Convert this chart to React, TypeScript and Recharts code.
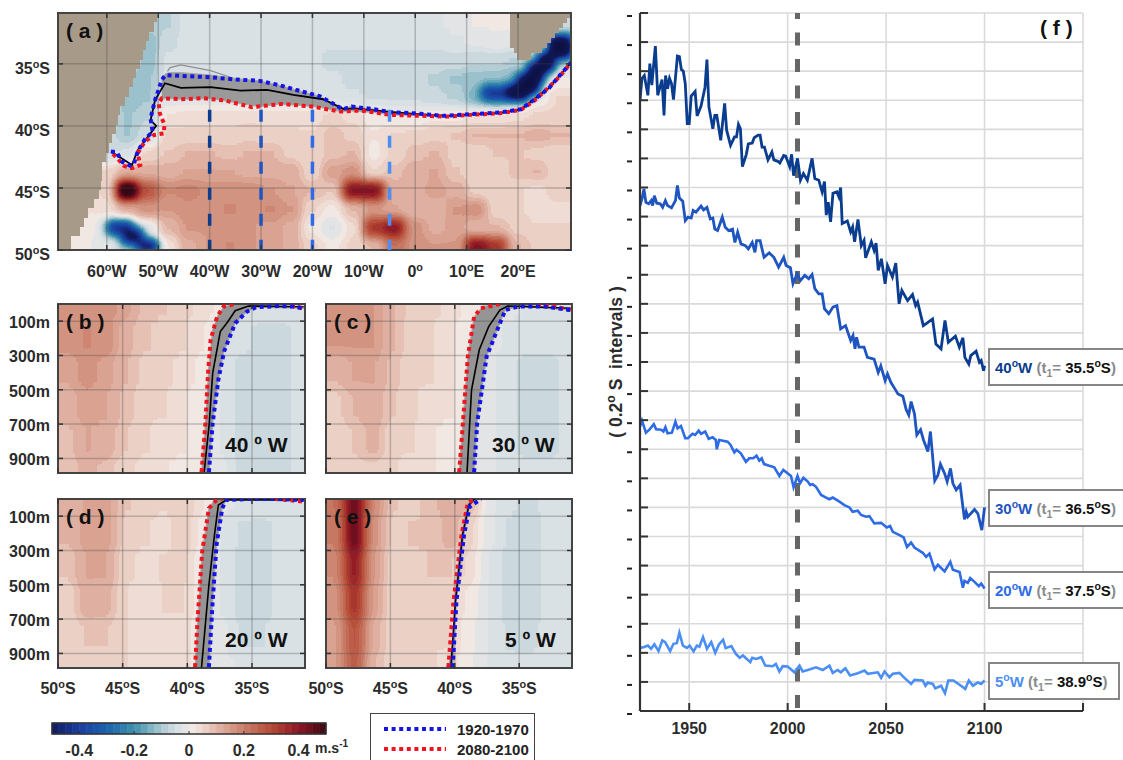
import { Area, ComposedChart, Line, ReferenceArea, ReferenceLine, XAxis, YAxis, CartesianGrid } from "recharts"

const FONT = "'Liberation Sans', Arial, sans-serif"
const TXT = "#2b2b2b"

// ---- time series of panel f (year, front position in 0.2 deg intervals)
const years40 = [1925,1926,1927.2,1929,1930,1931,1932.8,1934,1936.2,1937.2,1938,1939,1940,1941,1942,1944,1945,1946,1947,1948,1949,1950,1951,1953,1954,1956,1958,1959,1960,1962,1963,1964,1966,1968,1969,1971,1973,1974,1975,1976,1977,1979,1980,1982,1983,1985,1986,1987,1988.2,1990,1992,1993,1995,1996,1998,1999,2001,2002,2003,2005,2006.5,2008,2010,2012.4,2013.8,2015.8,2017.5,2018.7,2019.6,2020.6,2021.8,2023,2025,2026,2026.9,2027.7,2030.3,2032,2033,2034,2035.7,2037.4,2038.8,2039.6,2042.5,2043.9,2044.9,2046,2047.6,2049.5,2050.7,2053.2,2054.9,2056.6,2058,2060.9,2063.4,2065,2066,2068.9,2070.2,2073.6,2075.3,2077.9,2079.9,2081.6,2085.2,2087.2,2089,2090,2092,2093,2095.7,2097.4,2098.3,2099.5,2100]
const values40 = [21,21.75,21.85,21.17,22.26,21.52,22.86,21.17,21.71,20.48,21.85,21.4,21.75,21.57,21.02,22.52,22.5,22.06,22,21.57,20.2,20.2,21.14,21.3,20.46,20.8,21.44,22.4,20.77,20.02,20.48,20.48,19.62,20.89,19.97,19.45,19.74,19.74,20.17,20.02,18.72,19.14,19.5,19.53,19.71,19.8,19.8,19.39,19.39,18.95,19.22,18.95,18.9,18.84,19.1,19.08,18.72,19.14,18.41,19,18.25,18.48,18.25,19,18.31,18.25,17.85,18.2,17.05,17.5,16.82,17.8,17.85,17.68,18,16.76,16.85,16.47,16.64,16.13,16.9,16,16.18,15.58,16.13,15.84,16.09,15.15,15.55,14.69,15.32,14.92,15.4,14,14.46,14.11,14.32,13.94,14.06,13.25,13.31,13.48,12.62,12.45,13.43,12.68,12.89,12.51,12.83,12.16,11.93,12.22,12.37,11.99,12.05,11.7,11.87]

const years30 = [1925,1926,1927,1928,1929.4,1930.7,1931.4,1932.3,1933.5,1935.3,1936.5,1937.9,1939,1941,1943,1944,1945,1946.7,1948,1949.4,1951,1952,1953.4,1956,1957.3,1959,1960.7,1962,1963,1964.4,1966.8,1968.3,1970,1972,1973.2,1974.6,1976.3,1978.5,1980,1982,1983.4,1984.2,1986,1988,1990.6,1993,1995.4,1998,1999.2,2001.4,2002.7,2004.8,2006.5,2008.7,2010.7,2012.4,2013.8,2015.8,2017.5,2018.7,2020.9,2023,2025,2026.9,2029.4,2032,2033.2,2034.2,2035,2036.2,2038.8,2040.5,2043.9,2046,2047.3,2049.5,2050.7,2052.4,2054.7,2056,2058.5,2060.2,2061.5,2062.7,2064.4,2065.6,2067.5,2069,2071.2,2072.5,2074.7,2076.3,2077.6,2079.7,2081,2082.7,2083.9,2085.6,2087.6,2089.8,2090.7,2091.5,2094.9,2096.6,2098.6,2100]
const values30 = [17.38,17.61,17.95,17.49,17.44,17.55,17.38,17.72,17.46,17.44,17.32,17.55,17.38,17.3,17.55,18.07,17.64,17.53,16.86,16.98,16.95,17.21,17.15,17.36,17.23,17.32,16.92,16.95,16.57,16.52,16.98,16.63,16.52,16.57,16.11,16.46,16.06,16,15.89,16.11,15.77,16.17,16.17,15.6,15.75,15.6,15.26,15.6,15.32,15.24,14.69,15.03,14.8,14.98,14.86,15.01,14.52,14.34,14.34,13.83,13.66,13.89,13.94,13.14,13.25,12.74,12.91,12.45,12.85,12.51,12.51,12.16,12.1,11.64,11.87,11.36,11.59,11.3,11.05,10.9,10.82,10.36,10.18,10.64,10.22,9.49,9.67,9.32,8.92,9.61,7.92,8.11,8.49,8.17,7.89,8.34,7.83,7.6,7.77,6.59,6.85,6.68,6.93,6.79,6.22,7]

const years20 = [1925,1926,1928,1930,1932,1933.2,1935.7,1936.9,1937.9,1939,1941.2,1943,1944.1,1945.8,1948,1949.3,1951.7,1953,1954.8,1956,1958.1,1959.9,1961.9,1963.5,1964,1965.2,1969.5,1971,1972.9,1974,1976.2,1978.8,1980.5,1982.5,1984.2,1985.6,1986.8,1988,1990.7,1993.2,1995.8,1997.8,2001.7,2003,2005,2006.3,2008,2010.2,2011.4,2012.7,2014.4,2017,2019.5,2021.2,2022.9,2026.3,2028.8,2031.4,2033,2035.6,2037.3,2039.8,2041.5,2044,2047.5,2050.3,2052,2053.4,2056.8,2058.9,2060.6,2062.7,2064.4,2068.6,2070.3,2072,2074.6,2076.3,2079.7,2082.6,2083.9,2087.3,2089,2089.8,2091.5,2092.7,2094.9,2097.1,2098.3,2100]
const values20 = [9.78,9.99,9.57,9.69,9.86,9.69,9.67,9.61,9.76,9.55,9.57,9.95,9.72,9.8,9.38,9.38,9.53,9.49,9.64,9.53,9.61,9.36,9.41,9.32,9,9.32,9.26,9.15,8.89,8.98,8.86,8.57,8.69,8.69,8.78,8.61,8.69,8.49,8.43,8.38,8.08,8.29,8.08,7.69,8.08,7.83,8.02,7.89,7.77,7.8,7.71,7.43,7.34,7.28,7.34,7.2,7.08,7,6.85,6.89,6.74,6.68,6.7,6.45,6.47,6.31,6.36,6.16,6.05,5.97,5.64,5.79,5.62,5.44,5.3,5.41,4.87,5.03,4.8,5.13,4.86,4.78,4.24,4.47,4.41,4.57,4.44,4.29,4.38,4.21]

const years5 = [1925,1927.2,1929,1930.6,1932.3,1934.4,1936.3,1937.8,1940.3,1942,1943.7,1945,1946.8,1948.8,1950.2,1952.2,1953.9,1955.2,1957,1959,1961.2,1963.2,1965.1,1967.2,1968.5,1971.4,1973.6,1975.6,1977.3,1981,1982,1984,1986.6,1988.6,1992.4,1994,1995.8,1997.5,2000,2003.4,2006,2007.6,2010.2,2014.4,2017.8,2021.2,2022.9,2025.4,2027,2029.3,2031.7,2035.6,2039,2040.7,2045.8,2047.5,2049.2,2051.7,2053.4,2056.8,2059.3,2062.7,2064.4,2068.6,2070,2071.2,2073.7,2075,2077.9,2079.9,2081.6,2084.2,2088,2090.2,2092,2094.1,2096.6,2098.3,2100]
const values5 = [2.17,2.2,2.25,2.14,2.29,2.06,2.43,2.37,2.06,2.31,2.33,2.69,2.25,2.17,2.25,2.05,2.25,2.21,2.54,2.14,2.37,2,2.29,2.45,2.16,2.23,1.97,1.83,1.91,1.68,1.83,1.79,1.85,1.56,1.54,1.62,1.36,1.54,1.53,1.33,1.56,1.36,1.41,1.5,1.41,1.56,1.31,1.41,1.33,1.47,1.22,1.3,1.39,1.28,1.33,1.14,1.36,1.16,1.28,1.31,1.14,0.93,1.07,1.05,0.87,0.98,0.93,0.78,0.87,0.61,1.05,1.05,0.87,0.76,1.05,0.87,0.98,0.93,1.05]

const yearTicks = [1950, 2000, 2050, 2100, 2150]
const intervalTicks = [0,1,2,3,4,5,6,7,8,9,10,11,12,13,14,15,16,17,18,19,20,21,22,23,24]

// ---- panel a: surface field, m/s x 100, rows north to south
const lonEdges = [-70,-66,-62,-58,-54,-50,-46,-42,-38,-34,-30,-26,-22,-18,-14,-10,-6,-2,2,6,10,14,18,22,26,30]
const latEdges = [-31,-32.5,-34,-35.5,-37,-38.5,-40,-41.5,-43,-44.5,-46,-47.5,-49,-50.5]
const surfaceField = [
  [-3,-3,-3,-3,-8,-8,-3,-3,-3,-3,-3,-3,-3,-3,-3,-3,-3,-3,-3,-2,0,1,1,1,-6],
  [-3,-3,-3,-3,-12,-6,-3,-3,-3,-3,-3,-4,-4,-4,-4,-4,-4,-4,-4,-3,-2,-1,-2,-4,-14],
  [-3,-3,-3,-3,-12,-4,-3,-3,-3,-3,-3,-3,-4,-6,-6,-6,-6,-6,-6,-6,-7,-7,-8,-10,-8],
  [-3,-3,-3,-12,-10,-4,-3,-3,-3,-3,-3,-3,-4,-4,-6,-7,-7,-7,-8,-10,-11,-12,-14,-8,0],
  [-3,-3,-3,-12,-10,-2,-2,-2,-2,-2,-2,-2,-3,-3,-4,-5,-5,-5,-7,-8,-14,-18,-12,0,5],
  [-3,-3,-3,-10,-8,3,4,4,4,4,4,4,4,6,4,2,1,1,2,2,3,3,4,6,6],
  [-3,-3,-5,-10,-6,6,6,6,6,7,6,6,5,9,7,3,5,6,7,8,10,10,10,11,10],
  [-3,-3,-5,-4,6,8,10,10,9,10,10,7,5,9,10,2,6,9,10,7,6,8,8,7,6],
  [2,3,6,12,12,11,13,13,13,12,12,12,6,14,16,5,9,12,13,8,6,6,9,10,5],
  [2,3,6,58,28,18,19,17,17,17,15,13,10,8,42,42,11,11,14,12,7,5,5,4,7],
  [2,3,4,12,16,15,17,17,18,17,18,15,5,2,10,15,13,10,10,15,17,6,5,4,4],
  [0,2,-3,-8,-2,10,15,15,16,15,14,12,2,-3,4,34,40,16,12,14,10,10,7,5,5],
  [2,0,-2,-8,-6,3,12,15,18,15,14,12,6,2,6,10,22,17,15,15,42,34,10,7,6],
]
// narrow jets that the coarse grid can not carry: lon1, lon2, lat1, lat2, value x 100
const surfacePatches = [
  [13,18,-36.8,-37.9,-45],
  [18,22,-36.7,-37.9,-68],
  [20,24,-35.9,-37.4,-70],
  [22,25,-35,-36.4,-70],
  [24,27,-34.2,-35.6,-70],
  [26,30.3,-32.8,-34.5,-70],
  [-60,-55,-47.6,-48.8,-45],
  [-57,-53,-48.3,-49.5,-55],
  [-54,-50,-49.2,-50.2,-55],
]

const coastLats = [-30.9,-31.65,-32.4,-33.15,-33.9,-34.65,-35.4,-36.15,-36.9,-37.65,-38.4,-39.15,-39.9,-40.65,-41.4,-42.15,-42.9,-43.65,-44.4,-45.15,-45.9,-46.65,-47.4,-48.15,-48.9,-49.65,-50]
const coastLons = [-50.2,-50.9,-51.7,-52.3,-52.9,-53.6,-54.3,-55,-55.7,-56.5,-57.4,-57.8,-58.3,-58.9,-59.6,-60.2,-61,-61,-61.2,-61.5,-62.5,-63.7,-64.5,-65.3,-67,-67]
// lat top, lat bottom, lon left, lon right
const africaRows = [
  [-30.9,-31.3,18.4,30.3],
  [-31.3,-31.7,18.4,29.6],
  [-31.7,-32.1,18.4,28.8],
  [-32.1,-32.5,18.4,28],
  [-32.5,-32.9,18.4,27.2],
  [-32.9,-33.3,18.4,26.4],
  [-33.3,-33.7,18.4,25.6],
  [-33.7,-34.1,19.2,24.6],
  [-34.1,-34.65,19.8,22.6],
]

const blueLons = [-59.2,-58.1,-57,-55.5,-54.7,-54,-52.6,-51.1,-51.5,-50.6,-49.3,-48.6,-45.6,-39.8,-35.4,-30.3,-26.6,-22.3,-18.6,-16,-14.1,-12.4,-8.4,-4.7,-0.3,5.5,10.6,16.5,20.5,23.1,26,28.2,30.3]
const blueLats = [-42.07,-42.12,-42.9,-43.2,-43.01,-42.07,-41.08,-40.46,-39.38,-37.9,-36.29,-35.9,-35.97,-36.08,-36.24,-36.37,-36.7,-37.2,-37.6,-38.2,-38.66,-38.44,-38.63,-38.9,-38.98,-39.19,-39.06,-38.92,-38.66,-37.9,-36.96,-35.89,-34.9]
const redLons = [-58.8,-56.6,-55.1,-53.5,-54,-52.6,-50.8,-48.9,-48.8,-49.7,-49.9,-49.3,-45.6,-41.3,-36.9,-31.8,-29.6,-25.9,-20.1,-14.6,-10.6,-4.7,-0.3,6.3,10.6,16.5,20.5,23.1,26,28.2,30.3]
const redLats = [-42.26,-43.23,-43.41,-43.15,-42.2,-41.26,-40.73,-40.6,-39.9,-38.98,-38.17,-37.77,-37.85,-37.77,-37.96,-38.49,-38.39,-38.23,-38.44,-38.84,-38.76,-39.11,-39.17,-39.25,-39.11,-38.98,-38.71,-37.98,-36.88,-35.97,-34.9]
const blackLons = [-59.2,-55.1,-54,-51.5,-50.4,-51.5,-50.6,-48.7,-45.6,-39.8,-34,-28.8,-23.7,-17.9,-13.8,-12,-7.6,-0.3,6.3,16.5,20.5,26,30.3]
const blackLats = [-42.07,-43.15,-41.95,-40.6,-40,-39.55,-37.9,-36.56,-36.94,-36.88,-37.15,-37.1,-37.5,-37.85,-38.66,-38.58,-38.76,-39.03,-39.19,-38.95,-38.68,-36.94,-34.9]
const greyLons = [-48.2,-47.7,-45.6,-39.8,-35.4]
const greyLats = [-35.6,-35.3,-35.08,-35.54,-36.16]
const bandLons = [-49.3,-48.6,-47.7,-45.6,-39.8,-35.4,-30.3,-26.6,-22.3,-18.6,-14.6,-12.4,-8.4,-4.7,-0.3,5.5]
const bandTops = [-36.2,-35.8,-35.7,-35.7,-35.9,-36.16,-36.37,-36.7,-37.2,-37.6,-38.6,-38.44,-38.63,-38.9,-38.98,-39.15]
const bandBottoms = [-37.8,-37.8,-37.8,-37.85,-37.8,-38.1,-38.45,-38.25,-38.35,-38.5,-38.84,-38.8,-38.9,-39.11,-39.17,-39.2]

const lonTicks = [-60,-50,-40,-30,-20,-10,0,10,20]
const latTicks = [-50,-45,-40,-35]
const transectLons = [-40,-30,-20,-5]
const transectColors = ["#0a3d8f","#1f55c0","#2e6be6","#4b8ff5"]

// ---- panels b-e: sections, m/s x 100, rows top to bottom
const sectionLatEdges = [-50,-48.5,-47,-45.5,-44,-42.5,-41,-39.5,-38,-36.5,-35,-33.5,-32,-30.5]
const depthEdges = [0,100,300,500,700,900,985]
const depthTicks = [100,300,500,700,900]
const sectionLatTicks = [-50,-45,-40,-35]

const field40 = [
  [16,17,16,14,9,8,6,4,2,-3,-3,-3,-3],
  [16,18,17,11,8,7,5,3,-2,-4,-6,-6,-4],
  [13,16,14,10,7,6,4,2,-3,-6,-6,-6,-4],
  [11,14,13,9,6,5,3,1,-3,-6,-6,-6,-4],
  [9,13,12,8,5,4,3,0,-3,-6,-6,-6,-4],
  [8,11,9,6,4,3,2,0,-2,-6,-6,-6,-4],
]
const field30 = [
  [15,16,15,10,7,6,4,2,-2,-2,-3,-3,-3],
  [15,15,15,10,6,5,3,2,-2,-3,-4,-4,-3],
  [10,13,13,9,5,5,3,1,-2,-4,-6,-6,-4],
  [7,10,12,8,5,4,3,1,-2,-4,-6,-6,-4],
  [5,8,11,6,5,3,2,0,-2,-4,-6,-6,-4],
  [6,7,7,5,4,3,2,0,-2,-4,-4,-4,-3],
]
const field20 = [
  [11,13,14,8,7,5,8,3,-2,-3,-3,-3,-3],
  [10,14,14,7,5,4,7,2,-3,-5,-6,-4,-3],
  [8,13,13,6,4,5,6,1,-3,-6,-6,-4,-3],
  [6,12,11,5,3,5,5,1,-3,-6,-6,-4,-3],
  [6,8,8,5,3,4,4,0,-2,-5,-5,-3,-3],
  [6,6,6,5,3,4,4,0,-2,-3,-3,-3,-3],
]
const field5 = [
  [22,46,18,8,7,9,13,10,-2,-4,-6,-4,-3],
  [20,46,16,7,8,8,12,6,-2,-5,-7,-4,-3],
  [18,40,15,6,7,8,8,4,-3,-6,-7,-4,-3],
  [16,35,14,6,6,6,6,2,-3,-6,-7,-4,-3],
  [14,29,12,6,5,5,5,1,-3,-5,-6,-4,-3],
  [14,27,10,6,5,5,4,0,-3,-4,-4,-3,-3],
]

// front positions: lat, depth; null breaks the line
const b = {
  blue: [[-38.33,980],[-38.04,694],[-37.6,442],[-37.16,277],[-36.3,112],[-35.4,45],[-34.7,19],[-32.9,12],[-31.8,15],[-31,25]],
  red: [[-38.9,980],[-38.6,694],[-38.4,403],[-38.2,209],[-37.7,74],[-37.2,15],[-36.3,0],[-35,null],[-32,10],[-31,25]],
  black: [[-38.7,980],[-38.3,694],[-38.04,403],[-37.45,161],[-36.87,103],[-36.3,39],[-35.27,12],[-31,16]],
  band: [[-38.9,980,985],[-38.6,694,985],[-38.33,350,985],[-38.04,150,694],[-37.6,60,442],[-37.16,15,277],[-36.3,0,112],[-35.4,0,45],[-34.7,0,19],[-31,25,25]],
}
const c = {
  blue: [[-38.5,980],[-38.26,694],[-37.53,306],[-36.8,170],[-36.08,35],[-35.06,15],[-33,15],[-31,35]],
  red: [[-39.66,980],[-39.37,694],[-38.99,306],[-38.5,74],[-37.97,25],[-36.5,0],[-35,null],[-33.6,0],[-32.4,12],[-31,35]],
  black: [[-39.05,980],[-38.7,500],[-38.1,267],[-37.37,132],[-36.5,35],[-35.9,12],[-31,25]],
  band: [[-39.66,980,985],[-39.37,694,985],[-38.99,306,985],[-38.5,74,985],[-38.26,55,694],[-37.97,25,540],[-37.53,10,306],[-36.8,0,170],[-36.08,0,35],[-35,0,15],[-31,35,35]],
}
const d = {
  blue: [[-38.33,980],[-38.04,597],[-37.74,267],[-37.3,54],[-37,6],[-35.27,0],[-33.2,0],[-31,6]],
  red: [[-39.4,980],[-39.2,694],[-38.85,306],[-38.33,54],[-37.74,6],[-37.3,0],[-35,null],[-33.2,0],[-31,15]],
  black: [[-38.9,980],[-38.33,500],[-37.9,209],[-37.6,35],[-37,6],[-31,6]],
  band: [[-39.4,980,985],[-39.2,694,985],[-38.85,306,985],[-38.33,54,980],[-38.04,20,597],[-37.74,5,267],[-37.3,0,54],[-37,0,6]],
}
const e = {
  blue: [[-40.16,980],[-39.87,597],[-39.28,209],[-38.85,45],[-37.97,0]],
  red: [[-40.5,980],[-40.1,597],[-39.48,209],[-39,25],[-38.5,0]],
  black: [[-40.3,980],[-39.95,597],[-39.4,209],[-38.9,35],[-38.45,0]],
  band: [[-40.5,980,985],[-40.16,850,985],[-39.87,480,597],[-39.48,209,350],[-39.28,130,209],[-39,25,100],[-38.85,15,45],[-38.5,0,10]],
}

// ---- colour scale
const colorStops = [
  [-0.7,"#0c1040"],[-0.5,"#111a5c"],[-0.4,"#1c3fa0"],[-0.3,"#1a62ae"],[-0.2,"#3e90aa"],[-0.1,"#a9c9d3"],[-0.07,"#c6d6dc"],[-0.05,"#d4dee2"],[-0.03,"#dee3e6"],[0,"#e6e6e6"],
  [0.01,"#f2e9e5"],[0.05,"#efd8cf"],[0.1,"#e2b8aa"],[0.15,"#d69c89"],[0.2,"#c97f6a"],[0.3,"#b64a36"],[0.4,"#8f1525"],[0.5,"#3a0a14"],[0.7,"#2a0810"],
] as [number, string][]
const colorTicks = [-0.4,-0.2,0,0.2,0.4]
const LEVELS = 56
const RANGE = 0.7

function rgbAt(v: number) {
  for (let i = 1; i < colorStops.length; i++) {
    if (v <= colorStops[i][0]) {
      const [v0, c0] = colorStops[i - 1]
      const [v1, c1] = colorStops[i]
      const t = Math.max(0, (v - v0) / (v1 - v0))
      return [1, 3, 5].map((p) => {
        const a = parseInt(c0.slice(p, p + 2), 16)
        const z = parseInt(c1.slice(p, p + 2), 16)
        return a + (z - a) * t
      })
    }
  }
  return [42, 8, 16]
}
const levelColors = Array.from({ length: LEVELS }, (_, k) => rgbAt(-RANGE + ((k + 0.5) * 2 * RANGE) / LEVELS))
const channel = (i: number) => levelColors.map((c) => (c[i] / 255).toFixed(3)).join(" ")
const grayOf = (v: number) => {
  const g = Math.round((255 * (Math.max(-RANGE, Math.min(RANGE, v)) + RANGE)) / (2 * RANGE))
  return `rgb(${g},${g},${g})`
}
const zipXY = (xs: number[], ys: number[]) => xs.map((x, i) => ({ x, y: ys[i] }))
const pairs = (rows: any[]) => rows.map((r) => ({ x: r[0], y: r[1] }))
const bandRows = (rows: any[]) => rows.map((r) => ({ x: r[0], range: [r[1], r[2]] }))

const PAD = 20

function HeatLayer({ left, top, width, height, xDomain, yDomain, reversed, xEdges, yEdges, field, patches = [], blur }: any) {
  const xPad = (PAD * (xDomain[1] - xDomain[0])) / width
  const yPad = (PAD * Math.abs(yDomain[1] - yDomain[0])) / height
  const xd = [xDomain[0] - xPad, xDomain[1] + xPad]
  const yd = [yDomain[0] - yPad, yDomain[1] + yPad]
  const clampX = (i: number) => (i === 0 ? xd[0] : i === xEdges.length - 1 ? xd[1] : xEdges[i])
  const clampY = (j: number) => {
    if (j !== 0 && j !== yEdges.length - 1) return yEdges[j]
    const hi = yEdges[j] === Math.max(yEdges[0], yEdges[yEdges.length - 1])
    return hi ? yd[1] : yd[0]
  }
  return (
    <div style={{ position: "absolute", left, top, width, height, overflow: "hidden" }}>
      <div style={{ position: "absolute", left: -PAD, top: -PAD, filter: `blur(${blur}px) url(#contour)` }}>
        <ComposedChart width={width + 2 * PAD} height={height + 2 * PAD} margin={{ top: 0, right: 0, bottom: 0, left: 0 }} data={[{ x: xd[0], y: yd[0] }]}>
          <XAxis hide type="number" dataKey="x" domain={xd} allowDataOverflow />
          <YAxis hide type="number" domain={yd} reversed={reversed} allowDataOverflow />
          {field.map((row: number[], j: number) =>
            row.map((v: number, i: number) => (
              <ReferenceArea key={`${j}-${i}`} x1={clampX(i)} x2={clampX(i + 1)} y1={clampY(j)} y2={clampY(j + 1)} fill={grayOf(v / 100)} fillOpacity={1} stroke={grayOf(v / 100)} strokeWidth={1} />
            ))
          )}
          {patches.map((p: number[], k: number) => (
            <ReferenceArea key={`p${k}`} x1={p[0]} x2={p[1]} y1={p[2]} y2={p[3]} fill={grayOf(p[4] / 100)} fillOpacity={1} />
          ))}
        </ComposedChart>
      </div>
    </div>
  )
}

const Deg = ({ value, suffix, size = 16, fill = TXT, ...rest }: any) => (
  <text fontFamily={FONT} fontWeight={700} fontSize={size} fill={fill} {...rest}>
    <tspan>{value}</tspan>
    <tspan dy={-size * 0.36} fontSize={size * 0.68}>o</tspan>
    <tspan dy={size * 0.36}>{suffix}</tspan>
  </text>
)

const lonTick = (plotH: number) => ({ x, y, payload }: any) => {
  const v = payload.value
  return (
    <g>
      <line x1={x} x2={x} y1={y} y2={y - 5} stroke="#333" strokeWidth={1.5} />
      <line x1={x} x2={x} y1={y - plotH} y2={y - plotH + 5} stroke="#333" strokeWidth={1.5} />
      <Deg x={x} y={y + 27} textAnchor="middle" value={Math.abs(v)} suffix={v < 0 ? "W" : v > 0 ? "E" : ""} />
    </g>
  )
}
const latTick = (plotW: number) => ({ x, y, payload }: any) => (
  <g>
    <line x1={x} x2={x + 5} y1={y} y2={y} stroke="#333" strokeWidth={1.5} />
    <line x1={x + plotW} x2={x + plotW - 5} y1={y} y2={y} stroke="#333" strokeWidth={1.5} />
    <Deg x={x - 8} y={y + 10} textAnchor="end" value={Math.abs(payload.value)} suffix="S" />
  </g>
)
const sectionLatTick = (show: boolean, plotH: number) => ({ x, y, payload }: any) => (
  <g>
    <line x1={x} x2={x} y1={y} y2={y - 5} stroke="#333" strokeWidth={1.5} />
    <line x1={x} x2={x} y1={y - plotH} y2={y - plotH + 5} stroke="#333" strokeWidth={1.5} />
    {show && <Deg x={x} y={y + 26} textAnchor="middle" value={Math.abs(payload.value)} suffix="S" />}
  </g>
)
const depthTick = (show: boolean, plotW: number) => ({ x, y, payload }: any) => (
  <g>
    <line x1={x} x2={x + 5} y1={y} y2={y} stroke="#333" strokeWidth={1.5} />
    <line x1={x + plotW} x2={x + plotW - 5} y1={y} y2={y} stroke="#333" strokeWidth={1.5} />
    {show && (
      <text x={x - 8} y={y + 7} textAnchor="end" fontFamily={FONT} fontWeight={700} fontSize={16} fill={TXT}>
        {payload.value}m
      </text>
    )}
  </g>
)
const yearTick = ({ x, y, payload }: any) => (
  <g>
    <line x1={x} x2={x} y1={y} y2={y - 8} stroke="#333" strokeWidth={2} />
    {payload.value < 2150 && (
      <text x={x} y={y + 23} textAnchor="middle" fontFamily={FONT} fontWeight={700} fontSize={16} fill={TXT}>
        {payload.value}
      </text>
    )}
  </g>
)
const intervalTick = ({ x, y }: any) => (
  <g>
    <line x1={x} x2={x + 8} y1={y} y2={y} stroke="#333" strokeWidth={2} />
    <line x1={x - 13} x2={x - 8} y1={y + 3} y2={y + 3} stroke="#222" strokeWidth={2} />
  </g>
)
const colorTick = ({ x, y, payload }: any) => (
  <g>
    <line x1={x} x2={x} y1={y} y2={y - 3} stroke="#333" strokeWidth={1} />
    <text x={x} y={y + 22} textAnchor="middle" fontFamily={FONT} fontWeight={700} fontSize={16} fill={TXT}>
      {payload.value}
    </text>
  </g>
)

const GRID = "rgba(70,70,70,0.3)"
const DOT = "4 3.6"

function MapPanel() {
  const xDomain = [-69.5, 30.3]
  const yDomain = [-50, -30.9]
  const band = bandLons.map((x, i) => ({ x, range: [bandBottoms[i], bandTops[i]] }))
  return (
    <div style={{ position: "absolute", left: 0, top: 0 }}>
      <HeatLayer left={58} top={13} width={513} height={237} xDomain={xDomain} yDomain={yDomain} xEdges={lonEdges} yEdges={latEdges} field={surfaceField} patches={surfacePatches} blur={5} />
      <div style={{ position: "absolute", left: 0, top: 0 }}>
        <ComposedChart width={590} height={290} margin={{ top: 13, right: 19, bottom: 0, left: 0 }} data={[{ x: 0 }]}>
          <XAxis type="number" dataKey="x" domain={xDomain} ticks={lonTicks} interval={0} height={40} tickSize={0} tickMargin={0} tickLine={false} axisLine={false} tick={lonTick(237)} allowDataOverflow />
          <YAxis type="number" domain={yDomain} ticks={latTicks} interval={0} width={58} tickSize={0} tickMargin={0} tickLine={false} axisLine={false} tick={latTick(513)} allowDataOverflow />
          {coastLons.map((lon, i) => (
            <ReferenceArea key={i} x1={xDomain[0]} x2={lon} y1={coastLats[i]} y2={coastLats[i + 1]} fill="#a79a89" fillOpacity={1} shapeRendering="crispEdges" />
          ))}
          {africaRows.map((r, i) => (
            <ReferenceArea key={`af${i}`} x1={r[2]} x2={r[3]} y1={r[0]} y2={r[1]} fill="#a79a89" fillOpacity={1} shapeRendering="crispEdges" />
          ))}
          {lonTicks.map((v) => <ReferenceLine key={v} x={v} stroke={GRID} strokeWidth={1.5} />)}
          {latTicks.slice(1).map((v) => <ReferenceLine key={v} y={v} stroke={GRID} strokeWidth={1.5} />)}
          <Area data={band} dataKey="range" stroke="#a8a8a8" strokeWidth={1} fill="#9a9a9a" fillOpacity={1} isAnimationActive={false} dot={false} activeDot={false} />
          <Line data={zipXY(greyLons, greyLats)} dataKey="y" stroke="#8f8f8f" strokeWidth={1.2} dot={false} isAnimationActive={false} />
          <Line data={zipXY(blackLons, blackLats)} dataKey="y" stroke="#000" strokeWidth={1.8} dot={false} isAnimationActive={false} />
          <Line data={zipXY(redLons, redLats)} dataKey="y" stroke="#f0141e" strokeWidth={4} strokeDasharray={DOT} dot={false} isAnimationActive={false} />
          <Line data={zipXY(blueLons, blueLats)} dataKey="y" stroke="#1414e6" strokeWidth={4} strokeDasharray={DOT} dot={false} isAnimationActive={false} />
          {transectLons.map((lon, i) => (
            <ReferenceLine key={lon} segment={[{ x: lon, y: -38.7 }, { x: lon, y: -50 }]} stroke={transectColors[i]} strokeWidth={3.5} strokeDasharray="12 14" />
          ))}
          <ReferenceArea x1={xDomain[0]} x2={xDomain[1]} y1={yDomain[0]} y2={yDomain[1]} fill="none" stroke="#444" strokeWidth={2} />
        </ComposedChart>
      </div>
      <PanelTag left={66} top={19} text="( a )" />
    </div>
  )
}

const PanelTag = ({ left, top, text }: any) => (
  <div style={{ position: "absolute", left, top, fontFamily: FONT, fontWeight: 700, fontSize: 21, color: "#111", whiteSpace: "pre", lineHeight: "24px" }}>{text}</div>
)

function SectionPanel({ left, top, width, field, lines, tag, name, nameLeft, showLat, showDepth }: any) {
  const xDomain = [-50, -30.9]
  const yDomain = [0, 985]
  const height = 169
  return (
    <div style={{ position: "absolute", left: 0, top: 0 }}>
      <HeatLayer left={left} top={top} width={width} height={height} xDomain={xDomain} yDomain={yDomain} reversed xEdges={sectionLatEdges} yEdges={depthEdges} field={field} blur={6} />
      <div style={{ position: "absolute", left: left - 58, top: top - 3 }}>
        <ComposedChart width={width + 58 + 20} height={height + 3 + 40} margin={{ top: 3, right: 20, bottom: 0, left: 0 }} data={[{ x: -40 }]}>
          <XAxis type="number" dataKey="x" domain={xDomain} ticks={sectionLatTicks} interval={0} height={40} tickSize={0} tickMargin={0} tickLine={false} axisLine={false} tick={sectionLatTick(showLat, height)} allowDataOverflow />
          <YAxis type="number" domain={yDomain} reversed ticks={depthTicks} interval={0} width={58} tickSize={0} tickMargin={0} tickLine={false} axisLine={false} tick={depthTick(showDepth, width)} allowDataOverflow />
          {sectionLatTicks.slice(1).map((v) => <ReferenceLine key={v} x={v} stroke={GRID} strokeWidth={1.5} />)}
          {depthTicks.map((v) => <ReferenceLine key={v} y={v} stroke={GRID} strokeWidth={1.5} />)}
          <Area data={bandRows(lines.band)} dataKey="range" stroke="#a8a8a8" strokeWidth={1} fill="#959595" fillOpacity={1} isAnimationActive={false} dot={false} activeDot={false} />
          <Line data={pairs(lines.black)} dataKey="y" stroke="#000" strokeWidth={1.6} dot={false} isAnimationActive={false} />
          <Line data={pairs(lines.red)} dataKey="y" stroke="#f0141e" strokeWidth={4} strokeDasharray={DOT} dot={false} isAnimationActive={false} />
          <Line data={pairs(lines.blue)} dataKey="y" stroke="#1414e6" strokeWidth={4} strokeDasharray={DOT} dot={false} isAnimationActive={false} />
          <ReferenceArea x1={xDomain[0]} x2={xDomain[1]} y1={yDomain[0]} y2={yDomain[1]} fill="none" stroke="#444" strokeWidth={2} />
        </ComposedChart>
      </div>
      <PanelTag left={left + 8} top={top + 6} text={tag} />
      <div style={{ position: "absolute", left: nameLeft, top: top + 129, fontFamily: FONT, fontWeight: 700, fontSize: 21, color: "#111", whiteSpace: "pre", lineHeight: "24px" }}>{name}</div>
    </div>
  )
}

function SeriesPanel() {
  return (
    <div style={{ position: "absolute", left: 600, top: 0 }}>
      <ComposedChart width={523} height={760} margin={{ top: 13, right: 40, bottom: 0, left: 0 }} data={[{ x: 2000 }]}>
        <CartesianGrid stroke="#dadada" strokeWidth={1.6} />
        <XAxis type="number" dataKey="x" domain={[1925, 2150]} ticks={yearTicks} interval={0} height={49} tickSize={0} tickMargin={0} tickLine={false} stroke="#333" strokeWidth={2.2} tick={yearTick} allowDataOverflow />
        <YAxis type="number" domain={[0, 24]} ticks={intervalTicks} interval={0} width={40} tickSize={0} tickMargin={0} tickLine={false} stroke="#333" strokeWidth={2.2} tick={intervalTick} allowDataOverflow />
        <ReferenceLine x={2005} stroke="#666" strokeWidth={5} strokeDasharray="13 13.5" strokeDashoffset={-3} />
        <Line data={zipXY(years40, values40)} dataKey="y" stroke="#0a3d8f" strokeWidth={2.8} dot={false} isAnimationActive={false} />
        <Line data={zipXY(years30, values30)} dataKey="y" stroke="#1f55c0" strokeWidth={2.8} dot={false} isAnimationActive={false} />
        <Line data={zipXY(years20, values20)} dataKey="y" stroke="#2e6be6" strokeWidth={2.6} dot={false} isAnimationActive={false} />
        <Line data={zipXY(years5, values5)} dataKey="y" stroke="#4b8ff5" strokeWidth={2.6} dot={false} isAnimationActive={false} />
      </ComposedChart>
    </div>
  )
}

const Sup = () => <sup style={{ fontSize: "0.7em", lineHeight: 0 }}>o</sup>

const SeriesBox = ({ top, width = 140, lon, color, lat }: any) => (
  <div style={{ position: "absolute", left: 988, top, width, height: 34, border: "2px solid #868686", background: "#fff", fontFamily: FONT, fontWeight: 700, fontSize: 15, lineHeight: "36px", whiteSpace: "nowrap", paddingLeft: 5, boxSizing: "content-box" }}>
    <span style={{ color }}>{lon}<Sup />W</span>
    <span style={{ color: "#8a8a8a" }}> (t<sub style={{ fontSize: "0.7em", lineHeight: 0 }}>1</sub>= </span>
    <span style={{ color: "#111" }}>{lat}<Sup />S</span>
    <span style={{ color: "#8a8a8a" }}>)</span>
  </div>
)

function ColorBar() {
  const bar = levelColors.map((c, k) => ({
    x1: -RANGE + (k * 2 * RANGE) / LEVELS,
    x2: -RANGE + ((k + 1) * 2 * RANGE) / LEVELS,
    fill: `rgb(${c.map(Math.round).join(",")})`,
  })).filter((s) => s.x1 >= -0.5 - 1e-6 && s.x2 <= 0.5 + 1e-6)
  return (
    <div style={{ position: "absolute", left: 0, top: 720 }}>
      <ComposedChart width={360} height={40} margin={{ top: 3, right: 34, bottom: 0, left: 52 }} data={[{ x: 0 }]}>
        <XAxis type="number" dataKey="x" domain={[-0.5, 0.5]} ticks={colorTicks} interval={0} height={26} tickSize={0} tickMargin={0} tickLine={false} axisLine={false} tick={colorTick} allowDataOverflow />
        <YAxis hide type="number" domain={[0, 1]} allowDataOverflow />
        {bar.map((s, i) => (
          <ReferenceArea key={i} x1={Math.max(-0.5, s.x1)} x2={Math.min(0.5, s.x2)} y1={0} y2={1} fill={s.fill} fillOpacity={1} stroke={s.fill} strokeWidth={0.6} />
        ))}
        <ReferenceArea x1={-0.5} x2={0.5} y1={0} y2={1} fill="none" stroke="#333" strokeWidth={1.5} />
      </ComposedChart>
    </div>
  )
}

function LegendBox() {
  return (
    <div style={{ position: "absolute", left: 370, top: 713, width: 163, height: 60, border: "1.5px solid #444", background: "#fff" }}>
      <svg width={76} height={46} style={{ position: "absolute", left: 13, top: 6 }}>
        <line x1={0} x2={62} y1={9} y2={9} stroke="#1414e6" strokeWidth={4} strokeDasharray={DOT} />
        <line x1={0} x2={62} y1={29} y2={29} stroke="#f0141e" strokeWidth={4} strokeDasharray={DOT} />
      </svg>
      {["1920-1970", "2080-2100"].map((t, i) => (
        <div key={t} style={{ position: "absolute", left: 86, top: 7 + i * 20, fontFamily: FONT, fontWeight: 700, fontSize: 15, lineHeight: "18px", color: "#222" }}>{t}</div>
      ))}
    </div>
  )
}

export default function App() {
  return (
    <div style={{ position: "absolute", left: 0, top: 0, width: 1123, height: 760, overflow: "hidden", background: "#fff" }}>
      <svg width={0} height={0} style={{ position: "absolute" }}>
        <defs>
          <filter id="contour" colorInterpolationFilters="sRGB" x="0" y="0" width="100%" height="100%">
            <feComponentTransfer>
              <feFuncR type="discrete" tableValues={channel(0)} />
              <feFuncG type="discrete" tableValues={channel(1)} />
              <feFuncB type="discrete" tableValues={channel(2)} />
            </feComponentTransfer>
          </filter>
        </defs>
      </svg>
      <SeriesPanel />
      <MapPanel />
      <SectionPanel left={58} top={304} width={247} field={field40} lines={b} tag="( b )" name="40 º W" nameLeft={225} showLat={false} showDepth />
      <SectionPanel left={326} top={304} width={246} field={field30} lines={c} tag="( c )" name="30 º W" nameLeft={492} showLat={false} showDepth={false} />
      <SectionPanel left={58} top={499} width={247} field={field20} lines={d} tag="( d )" name="20 º W" nameLeft={225} showLat showDepth />
      <SectionPanel left={326} top={499} width={246} field={field5} lines={e} tag="( e )" name="5 º W" nameLeft={505} showLat showDepth={false} />
      <ColorBar />
      <div style={{ position: "absolute", left: 315, top: 740, fontFamily: FONT, fontWeight: 700, fontSize: 14, color: TXT, whiteSpace: "nowrap" }}>
        m.s<sup style={{ fontSize: "0.72em", lineHeight: 0 }}>-1</sup>
      </div>
      <LegendBox />
      <SeriesBox top={348} lon="40" color="#0a3d8f" lat="35.5" />
      <SeriesBox top={489} lon="30" color="#1f55c0" lat="36.5" />
      <SeriesBox top={571} lon="20" color="#2e6be6" lat="37.5" />
      <SeriesBox top={662} width={123} lon="5" color="#4b8ff5" lat="38.9" />
      <PanelTag left={1040} top={16} text="( f )" />
      <div style={{ position: "absolute", left: 616, top: 362, width: 0, height: 0 }}>
        <div style={{ transform: "translate(-50%,-50%) rotate(-90deg)", whiteSpace: "pre", fontFamily: FONT, fontWeight: 700, fontSize: 17.5, color: TXT, display: "inline-block" }}>
          ( 0.2<Sup /> S  intervals )
        </div>
      </div>
    </div>
  )
}
